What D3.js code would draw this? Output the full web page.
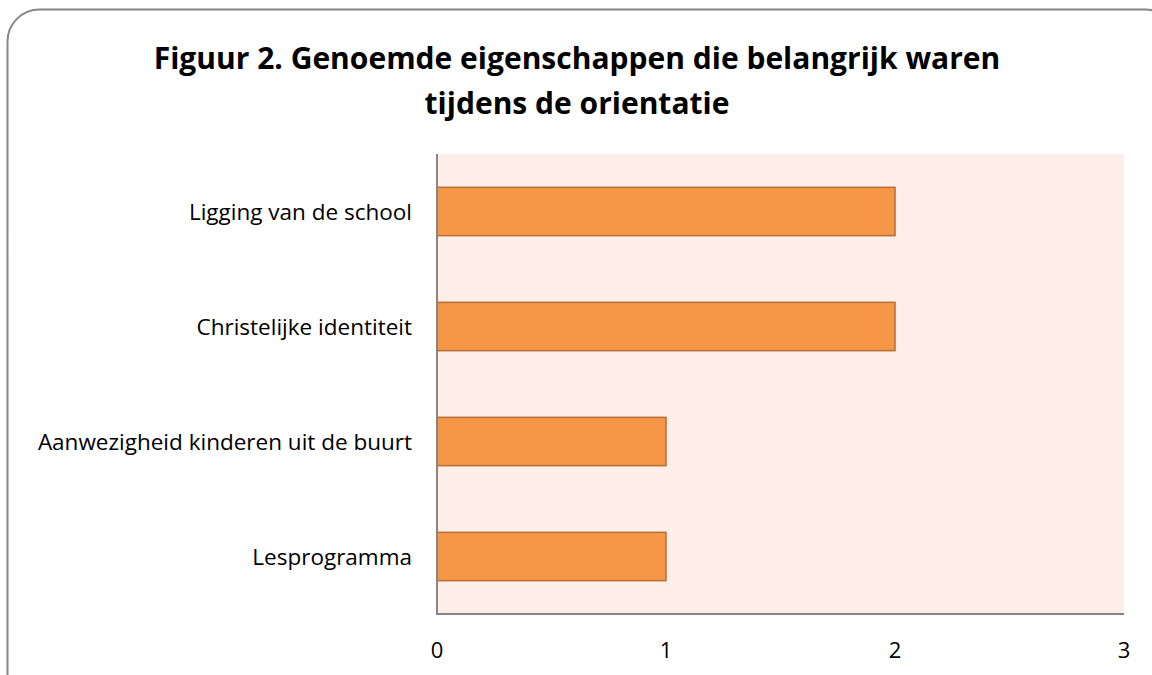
<!DOCTYPE html>
<html>
<head>
<meta charset="utf-8">
<script src="https://cdn.jsdelivr.net/npm/d3@7"></script>
<style>
body { margin: 0; background: #fff; }
svg { display: block; }
text { font-family: "Open Sans", "Liberation Sans", sans-serif; fill: #000; }
</style>
</head>
<body>
<svg class="chart" width="1152" height="675"></svg>
<script>
var CATEGORIES = ["Ligging van de school", "Christelijke identiteit", "Aanwezigheid kinderen uit de buurt", "Lesprogramma"];
var VALUES = [2, 2, 1, 1];
var TICKS = [0, 1, 2, 3];
var TITLE = ["Figuur 2. Genoemde eigenschappen die belangrijk waren", "tijdens de orientatie"];

var svg = d3.select(".chart");
var LEFT = 437, RIGHT = 1124, TOP = 154, BOTTOM = 614;

// outer frame, runs off the right and bottom edge
svg.append("rect").attr("x", 7.5).attr("y", 9.5).attr("width", 1170).attr("height", 700)
	.attr("rx", 32).attr("fill", "#fff").attr("stroke", "#868686").attr("stroke-width", 2);

svg.selectAll("text.title").data(TITLE).enter().append("text").attr("class", "title")
	.attr("x", 577).attr("y", (d, i) => 69 + i * 45).attr("text-anchor", "middle")
	.attr("font-size", 30).attr("font-weight", "bold").text(d => d);

var x = d3.scaleLinear().domain([0, 3]).range([LEFT, RIGHT]);
var y = d3.scaleBand().domain(CATEGORIES).range([TOP, BOTTOM]).paddingInner(0.58).paddingOuter(0.29);

svg.append("rect").attr("x", LEFT).attr("y", TOP).attr("width", RIGHT - LEFT).attr("height", BOTTOM - TOP).attr("fill", "#FDEEE9");

svg.selectAll("rect.bar").data(VALUES).enter().append("rect").attr("class", "bar")
	.attr("x", x(0)).attr("y", (d, i) => y(CATEGORIES[i]))
	.attr("width", d => x(d) - x(0)).attr("height", y.bandwidth())
	.attr("fill", "#F79646").attr("stroke", "#B66D31").attr("stroke-width", 1.5);

// axes lines
svg.append("line").attr("x1", LEFT).attr("x2", LEFT).attr("y1", TOP).attr("y2", BOTTOM).attr("stroke", "#868686").attr("stroke-width", 2);
svg.append("line").attr("x1", LEFT - 1).attr("x2", RIGHT).attr("y1", BOTTOM).attr("y2", BOTTOM).attr("stroke", "#868686").attr("stroke-width", 2);

svg.selectAll("text.tick").data(TICKS).enter().append("text").attr("class", "tick")
	.attr("x", d => x(d)).attr("y", 658).attr("text-anchor", "middle").attr("font-size", 22).text(d => d);

svg.selectAll("text.cat").data(CATEGORIES).enter().append("text").attr("class", "cat")
	.attr("x", 412).attr("y", d => y(d) + y.bandwidth() / 2 + 8).attr("text-anchor", "end").attr("font-size", 22.5).text(d => d);
</script>
</body>
</html>
